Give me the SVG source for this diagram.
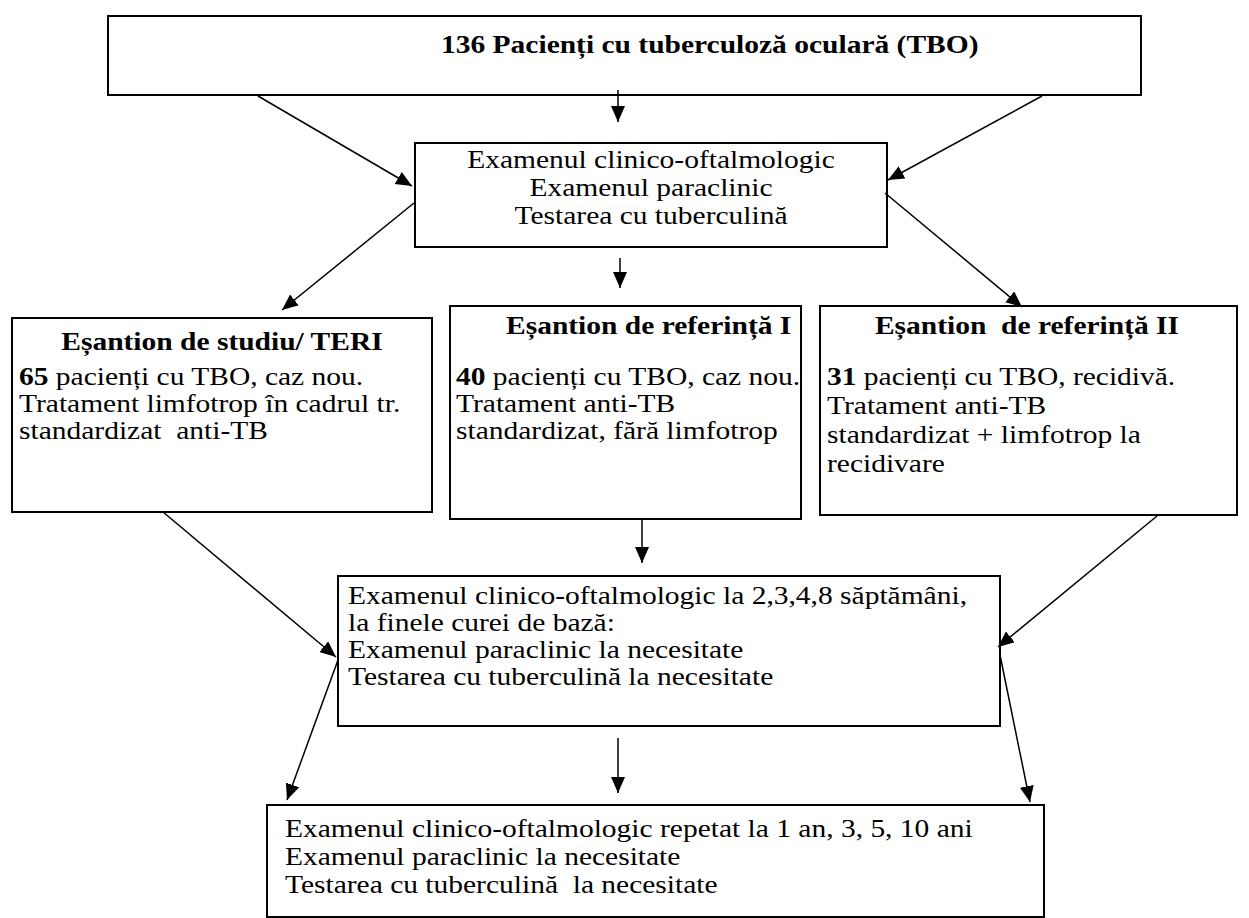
<svg xmlns="http://www.w3.org/2000/svg" width="1249" height="918" viewBox="0 0 1249 918">
<style>
.t{font-family:"Liberation Serif","Times New Roman",serif;font-size:25px;fill:#000}
.b{font-weight:bold}
.box{fill:#fff;stroke:#000;stroke-width:2}
.c{stroke:#000;stroke-width:1.5;fill:none;marker-end:url(#ah)}
</style>
<defs>
<marker id="ah" markerUnits="userSpaceOnUse" markerWidth="18" markerHeight="16" refX="16" refY="7" orient="auto">
<path d="M0,0 L16,7 L0,14 z" fill="#000"/>
</marker>
</defs>
<rect width="1249" height="918" fill="#fff"/>
<g id="n-top">
<rect class="box" x="108" y="16" width="1033" height="79"/>
<text class="t b" transform="matrix(1.18 0 0 1 441 53)">136 Pacienți cu tuberculoză oculară (TBO)</text>
</g>
<g id="n-exam">
<rect class="box" x="415" y="143" width="472" height="104"/>
<text class="t" text-anchor="middle" transform="matrix(1.18 0 0 1 651 168)">Examenul clinico-oftalmologic</text>
<text class="t" text-anchor="middle" transform="matrix(1.18 0 0 1 651 196)">Examenul paraclinic</text>
<text class="t" text-anchor="middle" transform="matrix(1.18 0 0 1 651 224)">Testarea cu tuberculină</text>
</g>
<g id="n-studiu">
<rect class="box" x="12" y="318" width="420" height="194"/>
<text class="t b" text-anchor="middle" transform="matrix(1.18 0 0 1 222 350)">Eșantion de studiu/ TERI</text>
<text class="t" transform="matrix(1.18 0 0 1 19 385)"><tspan class="b">65</tspan> pacienți cu TBO, caz nou.</text>
<text class="t" transform="matrix(1.18 0 0 1 19 412)">Tratament limfotrop în cadrul tr.</text>
<text class="t" xml:space="preserve" transform="matrix(1.18 0 0 1 19 439)">standardizat  anti-TB</text>
</g>
<g id="n-ref1">
<rect class="box" x="450" y="306" width="351" height="213"/>
<text class="t b" transform="matrix(1.18 0 0 1 506 334)">Eșantion de referință I</text>
<text class="t" transform="matrix(1.18 0 0 1 456 385)"><tspan class="b">40</tspan> pacienți cu TBO, caz nou.</text>
<text class="t" transform="matrix(1.18 0 0 1 456 412)">Tratament anti-TB</text>
<text class="t" transform="matrix(1.18 0 0 1 456 439)">standardizat, fără limfotrop</text>
</g>
<g id="n-ref2">
<rect class="box" x="820" y="306" width="417" height="209"/>
<text class="t b" xml:space="preserve" text-anchor="middle" transform="matrix(1.18 0 0 1 1027 334)">Eșantion  de referință II</text>
<text class="t" transform="matrix(1.18 0 0 1 827 385)"><tspan class="b">31</tspan> pacienți cu TBO, recidivă.</text>
<text class="t" transform="matrix(1.18 0 0 1 827 414)">Tratament anti-TB</text>
<text class="t" transform="matrix(1.18 0 0 1 827 443)">standardizat + limfotrop la</text>
<text class="t" transform="matrix(1.18 0 0 1 827 472)">recidivare</text>
</g>
<g id="n-followup">
<rect class="box" x="338" y="576" width="662" height="150"/>
<text class="t" transform="matrix(1.18 0 0 1 348 604)">Examenul clinico-oftalmologic la 2,3,4,8 săptămâni,</text>
<text class="t" transform="matrix(1.18 0 0 1 348 631)">la finele curei de bază:</text>
<text class="t" transform="matrix(1.18 0 0 1 348 658)">Examenul paraclinic la necesitate</text>
<text class="t" transform="matrix(1.18 0 0 1 348 685)">Testarea cu tuberculină la necesitate</text>
</g>
<g id="n-longterm">
<rect class="box" x="267" y="805" width="777" height="112"/>
<text class="t" transform="matrix(1.18 0 0 1 285 837)">Examenul clinico-oftalmologic repetat la 1 an, 3, 5, 10 ani</text>
<text class="t" transform="matrix(1.18 0 0 1 285 865)">Examenul paraclinic la necesitate</text>
<text class="t" xml:space="preserve" transform="matrix(1.18 0 0 1 285 893)">Testarea cu tuberculină  la necesitate</text>
</g>
<g id="connectors">
<line class="c" x1="258" y1="96" x2="412" y2="186"/>
<line class="c" x1="618" y1="90" x2="618" y2="122"/>
<line class="c" x1="1042" y1="96" x2="888" y2="180"/>
<line class="c" x1="414" y1="203" x2="282" y2="310"/>
<line class="c" x1="620" y1="258" x2="620" y2="288"/>
<line class="c" x1="885" y1="193" x2="1022" y2="307"/>
<line class="c" x1="163" y1="512" x2="336" y2="657"/>
<line class="c" x1="642" y1="520" x2="642" y2="563"/>
<line class="c" x1="1157" y1="516" x2="998" y2="647"/>
<line class="c" x1="338" y1="660" x2="287" y2="800"/>
<line class="c" x1="1000" y1="655" x2="1030" y2="802"/>
<line class="c" x1="618" y1="738" x2="618" y2="793"/>
</g>
</svg>
